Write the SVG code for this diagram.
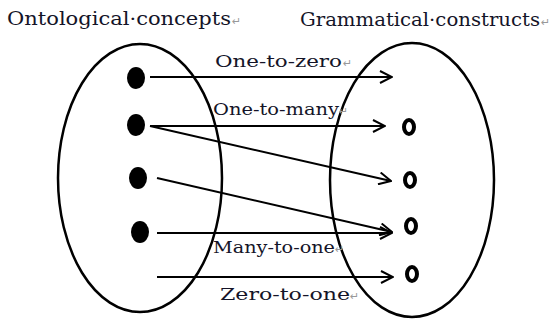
<svg xmlns="http://www.w3.org/2000/svg" width="553" height="320" viewBox="0 0 553 320">
<style>
.set{fill:none;stroke:#000;stroke-width:2.5}
.src{fill:#000}
.dst{fill:none;stroke:#000;stroke-width:4}
.edge{fill:none;stroke:#000;stroke-width:2}
.t{font-family:"DejaVu Serif Condensed","DejaVu Serif","Liberation Serif",serif;fill:#141428}
.h{font-size:18px}
.l{font-size:17.5px}
.m{font-family:"DejaVu Sans",sans-serif;font-size:11px;fill:#999}
</style>
<defs>
<marker id="ah" viewBox="0 0 14 14" refX="13" refY="7" markerWidth="14" markerHeight="14" markerUnits="userSpaceOnUse" orient="auto">
<polyline points="1,1 13,7 1,13" fill="none" stroke="#000" stroke-width="2"/>
</marker>
</defs>
<rect width="553" height="320" fill="#fff"/>
<g id="ontological-set"><ellipse class="set" cx="140" cy="178" rx="82" ry="134"/></g>
<g id="grammatical-set"><ellipse class="set" cx="412" cy="180" rx="82" ry="137"/></g>
<g id="title-left"><text class="t h" x="7" y="25" textLength="224" lengthAdjust="spacingAndGlyphs">Ontological·concepts</text><text class="m" x="232" y="25">↵</text></g>
<g id="title-right"><text class="t h" x="300" y="26" textLength="240" lengthAdjust="spacingAndGlyphs">Grammatical·constructs</text><text class="m" x="541" y="26">↵</text></g>
<g id="c1"><ellipse class="src" cx="136" cy="78" rx="9" ry="11"/></g>
<g id="c2"><ellipse class="src" cx="136" cy="125" rx="9" ry="11"/></g>
<g id="c3"><ellipse class="src" cx="138" cy="178" rx="9" ry="11"/></g>
<g id="c4"><ellipse class="src" cx="140" cy="232" rx="9" ry="11"/></g>
<g id="g1"><ellipse class="dst" cx="409" cy="127" rx="5" ry="7"/></g>
<g id="g2"><ellipse class="dst" cx="410" cy="180" rx="5" ry="7"/></g>
<g id="g3"><ellipse class="dst" cx="411" cy="226" rx="5" ry="7"/></g>
<g id="g4"><ellipse class="dst" cx="412" cy="274" rx="5" ry="7"/></g>
<g id="connectors">
<line class="edge" x1="150" y1="77" x2="392" y2="77" marker-end="url(#ah)"/>
<line class="edge" x1="150" y1="126" x2="385" y2="126" marker-end="url(#ah)"/>
<line class="edge" x1="150" y1="126" x2="391" y2="181" marker-end="url(#ah)"/>
<line class="edge" x1="157" y1="178" x2="392" y2="232" marker-end="url(#ah)"/>
<line class="edge" x1="157" y1="233" x2="392" y2="233" marker-end="url(#ah)"/>
<line class="edge" x1="157" y1="277" x2="393" y2="277" marker-end="url(#ah)"/>
</g>
<g id="labels">
<text class="t l" x="215" y="67" textLength="127" lengthAdjust="spacingAndGlyphs">One-to-zero</text><text class="m" x="343" y="67">↵</text>
<text class="t l" x="213" y="115" textLength="126" lengthAdjust="spacingAndGlyphs">One-to-many</text><text class="m" x="339" y="115">↵</text>
<text class="t l" x="213" y="253" textLength="122" lengthAdjust="spacingAndGlyphs">Many-to-one</text><text class="m" x="335" y="253">↵</text>
<text class="t l" x="220" y="300" textLength="130" lengthAdjust="spacingAndGlyphs">Zero-to-one</text><text class="m" x="350" y="300">↵</text>
</g>
</svg>
